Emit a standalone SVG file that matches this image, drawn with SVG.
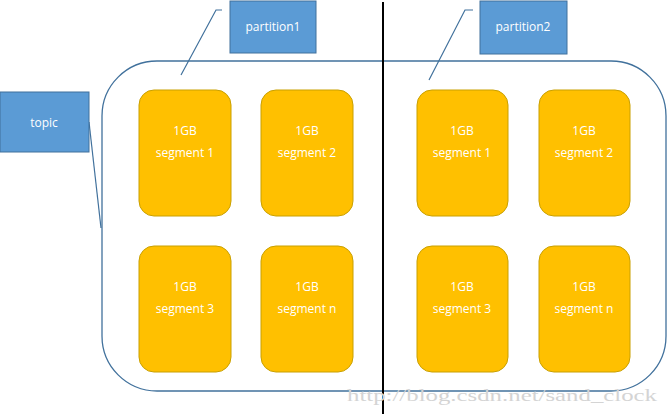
<svg xmlns="http://www.w3.org/2000/svg" width="668" height="414" viewBox="0 0 668 414">
<style>
.lbl{fill:#5B9BD5;stroke:#41719C;stroke-width:1}
.lt{fill:#fff;font-family:"Open Sans","Liberation Sans",sans-serif;font-size:12px;text-anchor:middle}
.seg{fill:#FFC000;stroke:#C9A000;stroke-width:1}
.st{fill:#fff;font-family:"Open Sans","Liberation Sans",sans-serif;font-size:12px;text-anchor:middle}
.call{fill:none;stroke:#41719C;stroke-width:1.2}
</style>
<rect width="668" height="414" fill="#fff"/>
<g id="topic-container"><rect x="102" y="61" width="564" height="330" rx="55" ry="55" fill="none" stroke="#41719C" stroke-width="1.3"/></g>
<g id="connectors">
<line x1="383" y1="2" x2="383" y2="414" stroke="#000" stroke-width="2"/>
<polyline class="call" points="89,122 101,228"/>
<polyline class="call" points="222,10 216,10 181,75"/>
<polyline class="call" points="473,10 465,10 429,80"/>
</g>
<g id="topic"><rect class="lbl" x="0" y="92" width="89" height="60"/><text class="lt" x="44" y="127">topic</text></g>
<g id="partition1"><rect class="lbl" x="230" y="1" width="86" height="52"/><text class="lt" x="273" y="31">partition1</text></g>
<g id="partition2"><rect class="lbl" x="480" y="1" width="87" height="53"/><text class="lt" x="523" y="31">partition2</text></g>
<g id="p1s1"><rect class="seg" x="139" y="90" width="92" height="126" rx="15"/><text class="st" x="185" y="135">1GB</text><text class="st" x="185" y="157">segment 1</text></g>
<g id="p1s2"><rect class="seg" x="261" y="90" width="92" height="126" rx="15"/><text class="st" x="307" y="135">1GB</text><text class="st" x="307" y="157">segment 2</text></g>
<g id="p1s3"><rect class="seg" x="139" y="246" width="92" height="126" rx="15"/><text class="st" x="185" y="291">1GB</text><text class="st" x="185" y="313">segment 3</text></g>
<g id="p1sn"><rect class="seg" x="261" y="246" width="92" height="126" rx="15"/><text class="st" x="307" y="291">1GB</text><text class="st" x="307" y="313">segment n</text></g>
<g id="p2s1"><rect class="seg" x="417" y="90" width="91" height="126" rx="15"/><text class="st" x="462" y="135">1GB</text><text class="st" x="462" y="157">segment 1</text></g>
<g id="p2s2"><rect class="seg" x="539" y="90" width="91" height="126" rx="15"/><text class="st" x="584" y="135">1GB</text><text class="st" x="584" y="157">segment 2</text></g>
<g id="p2s3"><rect class="seg" x="417" y="246" width="91" height="126" rx="15"/><text class="st" x="462" y="291">1GB</text><text class="st" x="462" y="313">segment 3</text></g>
<g id="p2sn"><rect class="seg" x="539" y="246" width="91" height="126" rx="15"/><text class="st" x="584" y="291">1GB</text><text class="st" x="584" y="313">segment n</text></g>
<text x="347" y="401" font-family="Liberation Serif,serif" font-size="17" fill="#d4d4d4" textLength="310" lengthAdjust="spacingAndGlyphs">http://blog.csdn.net/sand_clock</text>
</svg>
